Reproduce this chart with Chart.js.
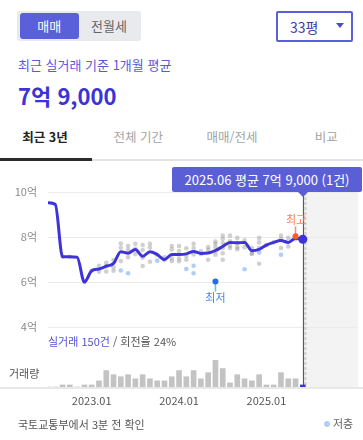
<!DOCTYPE html>
<html lang="ko">
<head>
<meta charset="utf-8">
<script src="https://cdn.jsdelivr.net/npm/chart.js@4.4.1/dist/chart.umd.min.js"></script>
<style>
  body { margin: 0; width: 363px; height: 440px; position: relative; overflow: hidden; background: #fff;
         font-family: "Noto Sans CJK KR", "Noto Sans", sans-serif; }
  .abs { position: absolute; white-space: nowrap; }
  .toggle { left: 17px; top: 11px; width: 124px; height: 30px; background: #e9eaee; border-radius: 3px; }
  .toggle .on { position: absolute; left: 2.5px; top: 2.3px; width: 59.5px; height: 25.5px; background: #5a5fda;
                border-radius: 3px; color: #fff; font-size: 13px; line-height: 25.5px; text-align: center; }
  .toggle .off { position: absolute; left: 62px; top: 2.3px; width: 60px; height: 25.5px; color: #666;
                 font-size: 13px; line-height: 25.5px; text-align: center; }
  .select { left: 275.5px; top: 11px; width: 73px; height: 26.5px; border: 2px solid #5a5ed8; border-radius: 2px; }
  .select span { position: absolute; left: 12.5px; top: 0; font-size: 14px; line-height: 28px; color: #3f3fa6; }
  .select i { position: absolute; left: 58px; top: 10px; width: 0; height: 0; border-left: 4.5px solid transparent;
              border-right: 4.5px solid transparent; border-top: 5px solid #4b4bcc; }
  .sub { left: 18px; top: 54.6px; font-size: 13px; line-height: 20px; color: #5c58d8; }
  .big { left: 18px; top: 79.5px; font-size: 22px; line-height: 30px; font-weight: bold; color: #3b33d6; }
  .tab { top: 127px; font-size: 12.5px; line-height: 20px; color: #a3a3a3; transform: translateX(-50%); }
  .tab.cur { color: #222; font-weight: bold; }
  #chart { position: absolute; left: 0; top: 160px; }
  .tip { left: 172px; top: 167px; width: 190px; height: 25px; background: #5a5fd6; border-radius: 2px;
         color: #fff; font-size: 13px; line-height: 25px; text-align: center; }
  .caret { top: 191.5px; width: 0; height: 0; border-left: 5px solid transparent; border-right: 5px solid transparent;
           border-top: 5px solid #5a5fd6; }
  .deal { left: 48px; top: 331px; font-size: 11px; line-height: 20px; color: #555; }
  .deal b { font-weight: normal; color: #5452d8; }
  .vol { left: 9px; top: 362.6px; font-size: 11px; line-height: 20px; color: #555; }
  .foot { left: 18px; top: 413.6px; font-size: 11px; line-height: 20px; color: #555; }
  .legend { left: 324px; top: 412.5px; font-size: 11px; line-height: 20px; color: #666; }
  .legend i { display: inline-block; width: 6px; height: 6px; border-radius: 50%; background: #b3cdf5;
              margin-right: 3px; vertical-align: 1px; }
</style>
</head>
<body>
<div class="abs toggle"><div class="on">매매</div><div class="off">전월세</div></div>
<div class="abs select"><span>33평</span><i></i></div>
<div class="abs sub">최근 실거래 기준 1개월 평균</div>
<div class="abs big" id="big"></div>

<div class="abs tab cur" style="left:45px">최근 3년</div>
<div class="abs tab" style="left:138.3px">전체 기간</div>
<div class="abs tab" style="left:232px">매매/전세</div>
<div class="abs tab" style="left:326.2px">비교</div>
<div class="abs" style="left:0;top:159.3px;width:363px;height:1.4px;background:#e2e2e2"></div>
<div class="abs" style="left:0;top:158.3px;width:92px;height:2.4px;background:#2b2b2b"></div>

<canvas id="chart" width="363" height="255"></canvas>

<div class="abs tip" id="tip"></div>
<div class="abs caret" id="caret"></div>
<div class="abs deal" id="deal"></div>
<div class="abs vol">거래량</div>
<div class="abs foot">국토교통부에서 3분 전 확인</div>
<div class="abs legend"><i></i>저층</div>

<script>
const months = [
  '2022.07', '2022.08', '2022.09', '2022.10', '2022.11', '2022.12',
  '2023.01', '2023.02', '2023.03', '2023.04', '2023.05', '2023.06',
  '2023.07', '2023.08', '2023.09', '2023.10', '2023.11', '2023.12',
  '2024.01', '2024.02', '2024.03', '2024.04', '2024.05', '2024.06',
  '2024.07', '2024.08', '2024.09', '2024.10', '2024.11', '2024.12',
  '2025.01', '2025.02', '2025.03', '2025.04', '2025.05', '2025.06'
];

// 1개월 평균 (억)
const avgPrice = [
  9.52, 9.45, 7.12, 7.12, 7.1, 6.0,
  6.5, 6.58, 6.7, 6.83, 7.35, 7.28,
  7.45, 7.14, 7.35, 7.22, 7.0, 7.22,
  7.22, 7.25, 7.36, 7.27, 7.29, 7.4,
  7.58, 7.76, 7.74, 7.76, 7.39, 7.45,
  7.64, 7.76, 7.84, 7.76, 7.94, 7.9
];

// 거래량 (건)
const volumes = [
  0, 0, 1, 1, 0, 1,
  1, 3, 8, 6, 5, 6,
  4, 6, 4, 3, 3, 5,
  8, 5, 8, 4, 7, 13,
  9, 2, 6, 4, 3, 6,
  1, 1, 7, 4, 4, 1
];

// 개별 거래 (억)
const dealPrices = [
  [], [], [7.12], [7.12], [], [6.0],
  [6.5], [6.72, 6.46], [6.85, 6.7, 6.47], [6.98, 6.66, 6.5], [7.71, 7.52, 6.93], [7.6, 7.43, 7.1],
  [7.7, 7.48, 7.24], [7.64, 7.42, 7.08, 6.71], [7.7, 7.53, 6.9], [7.2], [7.1, 6.98], [7.6, 7.45, 7.05, 6.93],
  [7.6, 7.38, 7.05, 6.92], [7.5, 7.16, 6.99], [7.7, 7.51, 7.22], [7.36, 7.25], [7.55, 7.43, 6.99], [7.8, 7.7, 7.55, 7.36, 7.21],
  [8.06, 7.91, 7.73, 7.51, 7.28, 6.99], [8.06, 7.81, 7.61, 7.51], [7.96, 7.73, 7.55, 7.46], [7.85, 7.55], [7.51, 7.28, 7.25], [7.96, 7.76, 7.51, 6.81],
  [7.64], [7.76], [8.06, 7.91, 7.51], [7.96, 7.58], [7.9], [7.9]
];

// 저층 거래 (억)
const lowFloorPrices = [
  [], [], [], [], [], [],
  [], [], [], [], [6.51], [6.39],
  [], [], [], [6.95], [], [],
  [], [6.58], [6.72, 6.39], [], [], [],
  [], [], [], [6.57], [], [7.31],
  [], [], [7.21], [], [], []
];

const highDeal = { month: '2025.05', price: 8.03 };
const lowDeal = { month: '2024.06', price: 6.02 };

const yTicks = [4, 6, 8, 10];
const xTickLabels = ['2023.01', '2024.01', '2025.01'];

const last = avgPrice.length - 1;
const blue = '#3d33d9';

function fmtPrice(v) {
  const eok = Math.floor(v);
  const man = Math.round((v - eok) * 10000);
  return man ? `${eok}억 ${man.toLocaleString('en-US')}` : `${eok}억`;
}

const toPoints = arr => arr.flatMap((list, i) => list.map(y => ({ x: i, y })));

document.getElementById('big').textContent = fmtPrice(avgPrice[last]);
document.getElementById('tip').textContent = `${months[last]} 평균 ${fmtPrice(avgPrice[last])} (${volumes[last]}건)`;
const total = volumes.reduce((a, b) => a + b, 0);
document.getElementById('deal').innerHTML = `<b>실거래 ${total}건</b> / 회전율 24%`;

Chart.defaults.font.family = '"Noto Sans CJK KR", "Noto Sans", sans-serif';

// shade, cursor, baseline, 최고/최저 markers
const overlay = {
  id: 'overlay',
  beforeDraw(chart) {
    const { ctx, chartArea: a, scales: { x } } = chart;
    const cx = x.getPixelForValue(last);
    ctx.save();
    ctx.fillStyle = '#f3f3f3';
    ctx.fillRect(cx + 1.5, a.top, a.right - cx - 1.5, a.bottom - a.top);
    ctx.restore();
  },
  beforeDatasetsDraw(chart) {
    const { ctx, chartArea: a, scales: { x } } = chart;
    const cx = Math.round(x.getPixelForValue(last));
    ctx.save();
    ctx.fillStyle = '#e8e8e8';
    ctx.fillRect(0, a.bottom, chart.width, 2);
    ctx.strokeStyle = '#d0d0d0';
    ctx.lineWidth = 2;
    ctx.setLineDash([3, 2]);
    ctx.beginPath();
    ctx.moveTo(cx + 2.5, a.top);
    ctx.lineTo(cx + 2.5, a.bottom);
    ctx.stroke();
    ctx.setLineDash([]);
    ctx.strokeStyle = '#5a5a5a';
    ctx.lineWidth = 1.2;
    ctx.beginPath();
    ctx.moveTo(cx + 0.5, a.top);
    ctx.lineTo(cx + 0.5, a.bottom);
    ctx.stroke();
    ctx.restore();
  },
  afterDatasetsDraw(chart) {
    const { ctx, scales: { x, y } } = chart;
    ctx.save();
    ctx.font = '11px "Noto Sans CJK KR", sans-serif';
    ctx.textAlign = 'center';
    ctx.textBaseline = 'middle';

    // 최고
    let px = x.getPixelForValue(months.indexOf(highDeal.month));
    let py = y.getPixelForValue(highDeal.price);
    ctx.strokeStyle = '#ff8a63';
    ctx.lineWidth = 1.5;
    ctx.beginPath(); ctx.moveTo(px, py); ctx.lineTo(px, py - 10); ctx.stroke();
    ctx.fillStyle = '#ff5a24';
    ctx.beginPath(); ctx.arc(px, py, 3, 0, Math.PI * 2); ctx.fill();
    ctx.fillStyle = '#ff7b54';
    ctx.fillText('최고', px + 0.5, py - 16.5);

    // 최저
    px = x.getPixelForValue(months.indexOf(lowDeal.month));
    py = y.getPixelForValue(lowDeal.price);
    ctx.strokeStyle = '#7fb0f5';
    ctx.beginPath(); ctx.moveTo(px, py); ctx.lineTo(px, py + 10); ctx.stroke();
    ctx.fillStyle = '#1f6fe9';
    ctx.beginPath(); ctx.arc(px, py, 3, 0, Math.PI * 2); ctx.fill();
    ctx.fillStyle = '#3f86ee';
    ctx.fillText('최저', px, py + 16.5);
    ctx.restore();
  }
};

const chart = new Chart(document.getElementById('chart'), {
  type: 'bar',
  data: {
    datasets: [
      {
        type: 'line',
        data: avgPrice.map((v, i) => ({ x: i, y: v })),
        yAxisID: 'y',
        borderColor: blue,
        borderWidth: 3,
        cubicInterpolationMode: 'monotone',
        pointRadius: avgPrice.map((v, i) => (i === last ? 4.5 : 0)),
        pointBackgroundColor: blue,
        pointBorderWidth: 0,
        clip: false,
        order: 0
      },
      {
        type: 'scatter',
        data: toPoints(lowFloorPrices),
        yAxisID: 'y',
        pointRadius: 2.3,
        pointBorderWidth: 0,
        pointBackgroundColor: 'rgba(140, 185, 245, 0.7)',
        order: 1
      },
      {
        type: 'scatter',
        data: toPoints(dealPrices),
        yAxisID: 'y',
        pointRadius: 2.3,
        pointBorderWidth: 0,
        pointBackgroundColor: 'rgba(150, 150, 150, 0.45)',
        order: 2
      },
      {
        type: 'bar',
        data: volumes.map((v, i) => ({ x: i, y: v })),
        yAxisID: 'yVol',
        backgroundColor: volumes.map((v, i) => (i === last ? blue : '#c3c3c3')),
        barThickness: 5,
        order: 3
      }
    ]
  },
  options: {
    responsive: false,
    animation: false,
    events: [],
    layout: { padding: { top: 32, right: 5, left: 0, bottom: 0 } },
    plugins: { legend: { display: false }, tooltip: { enabled: false } },
    scales: {
      x: {
        type: 'linear',
        offset: false,
        min: 0,
        max: 42.58,
        grid: { display: false, drawTicks: false },
        border: { display: false },
        afterBuildTicks: ax => { ax.ticks = xTickLabels.map(l => ({ value: months.indexOf(l) })); },
        afterFit: ax => { ax.height = 28; },
        ticks: { autoSkip: false, maxRotation: 0, padding: 7, color: '#555', font: { size: 11 },
                 callback: v => months[v] }
      },
      y: {
        type: 'linear',
        position: 'left',
        min: 4 - 60 / 22.5,
        max: 10,
        grid: { color: '#ebebeb', drawTicks: false },
        border: { display: false },
        afterBuildTicks: ax => { ax.ticks = yTicks.map(v => ({ value: v })); },
        afterFit: ax => { ax.width = 48; },
        ticks: { padding: 11, color: '#8a8a8a', font: { size: 11 }, callback: v => v + '억' }
      },
      yVol: { type: 'linear', display: false, min: 0, max: 95 }
    }
  },
  plugins: [overlay]
});

const cx = chart.scales.x.getPixelForValue(last);
document.getElementById('caret').style.left = (cx - 4.5) + 'px';
</script>
</body>
</html>
